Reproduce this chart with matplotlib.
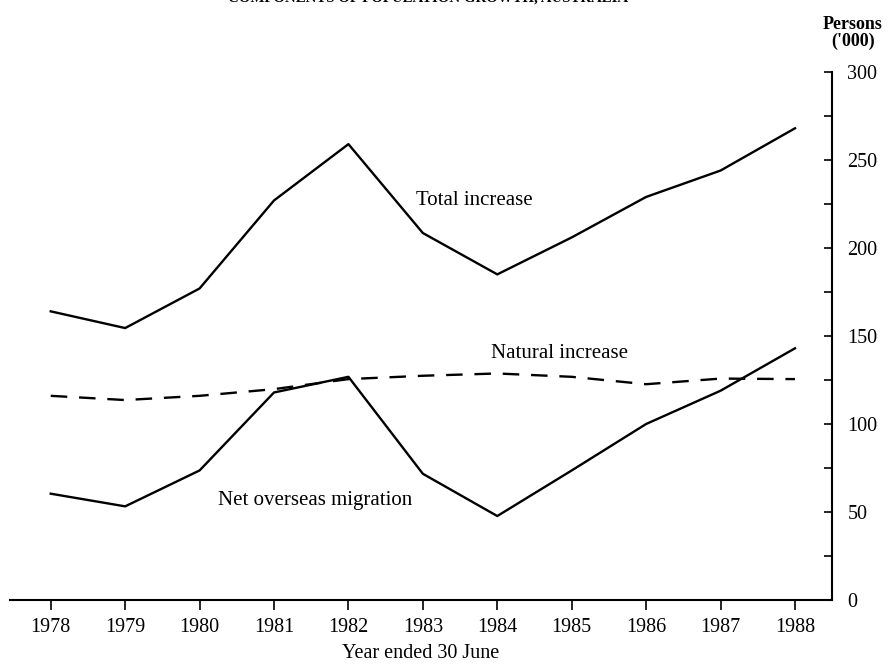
import matplotlib.pyplot as plt
import matplotlib.ticker as mticker

years = [1978, 1979, 1980, 1981, 1982, 1983, 1984, 1985, 1986, 1987, 1988]
total_increase = [164, 154.5, 177, 227, 259, 208.5, 185, 206, 229, 244, 268]
natural_increase = [116, 113.6, 116, 119.8, 125.5, 127.4, 128.7, 126.8, 122.6, 125.8, 125.5]
net_migration = [60.4, 53.2, 73.6, 117.9, 126.8, 71.7, 47.7, 73.6, 100, 118.9, 143]

plt.rcParams['font.family'] = ['Liberation Serif', 'DejaVu Serif']

fig = plt.figure(figsize=(8.91, 6.64), dpi=100)
ax = fig.add_axes([0.011, 0.0964, 0.923, 0.7952])

ax.plot(years, total_increase, color='black', lw=1.7)
ax.plot(years, net_migration, color='black', lw=1.7)
ax.plot(years, natural_increase, color='black', lw=1.7, ls=(0, (7, 5)))

ax.text(1983.69, 227, 'Total increase', fontsize=15, ha='center', va='center')
ax.text(1984.84, 140, 'Natural increase', fontsize=15, ha='center', va='center')
ax.text(1981.55, 56.5, 'Net overseas migration', fontsize=15, ha='center', va='center')

ax.set_xlim(1977.45, 1988.5)
ax.set_ylim(0, 300)
ax.set_xticks(years)
ax.set_xticklabels([str(y) for y in years], fontsize=14.5)

ax.yaxis.tick_right()
ax.yaxis.set_label_position('right')
ax.set_yticks(range(0, 301, 50))
ax.yaxis.set_minor_locator(mticker.MultipleLocator(25))
ax.tick_params(axis='y', which='both', direction='in', length=6, width=1.2,
               labelsize=14.5, pad=11)
ax.tick_params(axis='x', direction='out', length=7, width=1.2, pad=6)

for s in ['top', 'left']:
    ax.spines[s].set_visible(False)
ax.spines['right'].set_linewidth(1.5)
ax.spines['bottom'].set_linewidth(1.5)

ax.set_xlabel('Year ended 30 June', fontsize=14.5, labelpad=5)
fig.text(0.957, 0.950, "Persons\n('000)", fontsize=13, ha='center', va='center',
         fontweight='bold', linespacing=1.0)
# title is cut off at the top edge in the source scan
fig.text(0.480, 1.003, 'COMPONENTS OF POPULATION GROWTH, AUSTRALIA', fontsize=10.7,
         ha='center', va='center', fontweight='bold')

fig.savefig('out.png', dpi=100)
